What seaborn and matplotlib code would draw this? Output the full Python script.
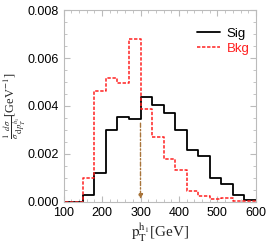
import numpy as np
import pandas as pd
import matplotlib
matplotlib.use('Agg')
import matplotlib.pyplot as plt
import seaborn as sns
from matplotlib.ticker import MultipleLocator

# bin edges (GeV) and normalised distributions
bin_edges = [90, 120, 150, 180, 210, 240, 270, 300, 330, 360, 390, 420, 450, 480, 510, 540, 570, 600]
sig_values = [0.0, 0.0, 0.0003, 0.0012, 0.0030, 0.00353, 0.00347, 0.00439, 0.00405, 0.00372,
              0.0030, 0.00215, 0.00192, 0.0010, 0.00075, 0.0003, 0.00007]
bkg_values = [0.0, 0.0, 0.00099, 0.00464, 0.00518, 0.00494, 0.00678, 0.00389, 0.0027, 0.00178,
              0.00133, 0.00047, 0.00025, 0.0001, 0.00015, 0.00003, 0.00003]
cut_value = 300
arrow_top = 0.0034

centers = [(a + b) / 2 for a, b in zip(bin_edges[:-1], bin_edges[1:])]
df = pd.DataFrame({'pt': centers + centers,
                   'w': sig_values + bkg_values,
                   'sample': ['Sig'] * len(centers) + ['Bkg'] * len(centers)})

sns.set_style('ticks')
plt.rcParams['font.family'] = ['Liberation Sans', 'DejaVu Sans']
plt.rcParams['mathtext.fontset'] = 'stix'

fig = plt.figure(figsize=(2.66, 2.45), dpi=100)
ax = fig.add_axes([0.239, 0.176, 0.723, 0.783])

sns.histplot(data=df[df['sample'] == 'Sig'], x='pt', weights='w', bins=bin_edges,
             element='step', fill=False, color='black', linewidth=1.3, label='Sig', ax=ax)
sns.histplot(data=df[df['sample'] == 'Bkg'], x='pt', weights='w', bins=bin_edges,
             element='step', fill=False, color='#ff2020', linewidth=1.1,
             linestyle=(0, (2.2, 1.1)), label='Bkg', ax=ax)

ax.annotate('', xy=(cut_value, 0), xytext=(cut_value, arrow_top),
            arrowprops=dict(arrowstyle='-|>', linestyle=(0, (3, 1.5, 1, 1.5)),
                            color='#a8743a', lw=1.0, mutation_scale=7))

ax.set_xlim(100, 600)
ax.set_ylim(0, 0.008)
ax.xaxis.set_major_locator(MultipleLocator(100))
ax.xaxis.set_minor_locator(MultipleLocator(20))
ax.yaxis.set_major_locator(MultipleLocator(0.002))
ax.yaxis.set_minor_locator(MultipleLocator(0.0005))
ax.yaxis.set_major_formatter(matplotlib.ticker.FormatStrFormatter('%.3f'))
ax.tick_params(which='both', direction='in', top=True, right=True, color='#bbbbbb',
               labelsize=9, labelcolor='black')
ax.tick_params(which='major', length=4)
ax.tick_params(which='minor', length=2)
for s in ax.spines.values():
    s.set_color('#bbbbbb')
    s.set_linewidth(0.8)

ax.set_xlabel(r'$\mathrm{p_T^{h_1}}$[GeV]', family='Liberation Serif', fontsize=11, labelpad=2)
ax.set_ylabel(r'$\frac{1}{\sigma}\frac{d\sigma}{\mathrm{d}p_T^{h_1}}$[GeV$^{-1}$]',
              family='Liberation Serif', fontsize=9)
ax.yaxis.set_label_coords(-0.185, 0.5)

leg = ax.legend(loc='upper right', frameon=False, fontsize=9.5, handlelength=1.8,
                handletextpad=0.5, labelspacing=0.2, bbox_to_anchor=(1.03, 0.97))
for txt, col in zip(leg.get_texts(), ['black', '#ff2020']):
    txt.set_color(col)

fig.savefig('out.png', dpi=100)
